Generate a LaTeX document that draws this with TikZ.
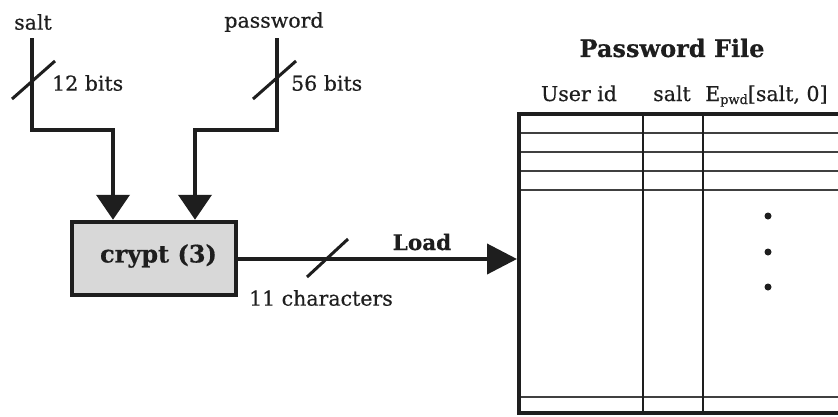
\documentclass[tikz,border=0pt]{standalone}
\usepackage{fontspec}
\setmainfont[FakeBold=0.5]{DejaVu Serif}
\usetikzlibrary{arrows.meta}
\definecolor{ink}{HTML}{1E1E1E}
\definecolor{boxfill}{HTML}{D8D8D8}
\begin{document}
\begin{tikzpicture}[x=1pt,y=-1pt,
  lbl/.style={inner sep=0pt,text=ink,font=\fontsize{20.5}{24}\selectfont},
  blbl/.style={inner sep=0pt,text=ink,font=\fontsize{24}{28}\selectfont\bfseries},
  wire/.style={draw=ink,line width=4pt},
  downarr/.style={wire,-{Triangle[length=25pt,width=33pt]}},
  outarr/.style={wire,-{Triangle[length=30pt,width=30pt]}},
  slash/.style={draw=ink,line width=3pt},
  cryptbox/.style={draw=ink,line width=4.5pt,fill=boxfill,minimum width=164pt,minimum height=73pt,inner sep=0pt},
  rowline/.style={draw=ink!85,line width=2pt},
  frameline/.style={draw=ink,line width=4pt},
  colline/.style={draw=ink,line width=2pt}]
\useasboundingbox (0,0) rectangle (838,416);
\fill[white] (0,0) rectangle (838,416);
\clip (0,0) rectangle (838,416);

% labels
\node[lbl] (saltlbl) at (33,22) {salt};
\node[lbl] (pwlbl) at (274,22) {password};
\node[lbl,anchor=west] (bits12) at (52,83) {12 bits};
\node[lbl,anchor=west] (bits56) at (291,83) {56 bits};

% crypt box
\node[cryptbox] (crypt) at (154,258.5) {};
\node[blbl] (crypttxt) at (158.5,256) {crypt (3)};

% input wires
\coordinate (s0) at (32,38);
\coordinate (s1) at (32,130);
\coordinate (s2) at (113,130);
\coordinate (p0) at (277,38);
\coordinate (p1) at (277,130);
\coordinate (p2) at (195,130);
\draw[downarr] (s0) -- (s1) -- (s2) -- (s2 |- crypt.north);
\draw[downarr] (p0) -- (p1) -- (p2) -- (p2 |- crypt.north);

% slashes on inputs
\coordinate (sa) at (12,99);
\coordinate (sb) at (55,61);
\coordinate (pa) at (253,99);
\coordinate (pb) at (296,61);
\draw[slash] (sa) -- (sb);
\draw[slash] (pa) -- (pb);

% table
\node[blbl] (title) at (672,48) {Password File};
\node[lbl,anchor=base] (hUser) at (579,101) {User id};
\node[lbl,anchor=base] (hSalt) at (672,101) {salt};
\node[lbl,anchor=base west] (hE) at (705,101) {E\raisebox{-3pt}{\fontsize{13}{13}\selectfont pwd}[salt, 0]};

\foreach \yy in {133,152,171,190,397}{
  \draw[rowline] (519,\yy) -- (860,\yy);
}
\draw[colline] (643,114) -- (643,413);
\draw[colline] (703,114) -- (703,413);
\draw[frameline] (860,114) -- (519,114) -- (519,413) -- (860,413);

\foreach \yy in {216,252,287}{
  \fill[ink] (768,\yy) circle (3.5pt);
}

% output wire
\coordinate (tin) at (517,259);
\draw[outarr] (crypt.east |- tin) -- (tin);
\coordinate (oa) at (307,277);
\coordinate (ob) at (348,239);
\draw[slash] (oa) -- (ob);
\node[blbl,font=\fontsize{21.5}{25}\selectfont\bfseries] (load) at (422,242) {Load};
\node[lbl] (chars) at (321,298) {11 characters};
\end{tikzpicture}
\end{document}
